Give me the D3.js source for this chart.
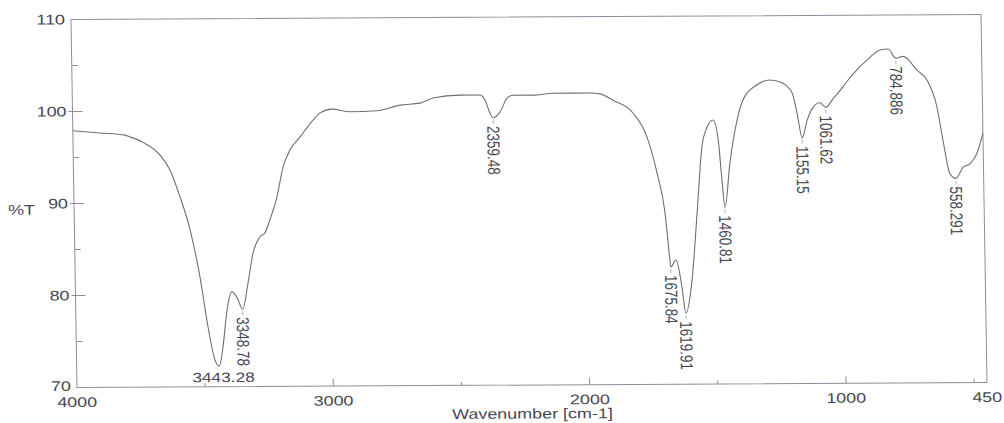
<!DOCTYPE html>
<html>
<head>
<meta charset="utf-8">
<script src="https://cdn.jsdelivr.net/npm/d3@7"></script>
<style>
  body { margin: 0; background: #fff; }
  svg text { font-family: "Liberation Sans", Arial, sans-serif; font-size: 14px; fill: #474753; }
  svg text.peak { font-size: 13.5px; }
</style>
</head>
<body>
<div id="chart"></div>
<script>
// spectrum (wavenumber cm-1, %T)
const wavenumbers = [4000, 3894, 3797, 3777, 3727, 3661, 3624, 3586, 3549, 3513, 3485, 3460, 3443.28, 3428, 3410, 3390, 3370, 3348.78, 3326, 3305, 3277, 3257, 3237, 3208, 3182, 3154, 3114, 3063, 3034, 2988, 2917, 2812, 2722, 2644, 2593, 2488, 2410, 2390, 2372, 2359.48, 2332, 2304, 2281, 2203, 2124, 1980, 1941, 1891, 1814, 1761, 1724, 1695, 1679, 1675.84, 1655, 1634, 1619.91, 1594, 1570, 1547, 1526, 1502, 1484, 1471, 1460.81, 1439, 1408, 1384, 1328, 1277, 1231, 1192, 1174, 1155.15, 1135, 1111, 1084, 1061.62, 1033, 1005, 977, 953, 898, 846, 815, 784.886, 757, 703, 665, 628, 606, 581, 558.291, 530, 502, 475, 450];
const transmittance = [97.9, 97.65, 97.4, 97.2, 96.6, 95.2, 93.6, 90.65, 87.1, 81.9, 76.5, 72.9, 72.25, 74.3, 78.3, 80.3, 79.7, 78.4, 81.3, 84.5, 86.25, 86.7, 88.1, 90.6, 93.85, 95.7, 97.1, 98.9, 99.7, 100.1, 99.8, 99.9, 100.5, 100.7, 101.25, 101.55, 101.55, 101.0, 99.6, 99.05, 99.7, 101.2, 101.5, 101.5, 101.7, 101.7, 101.6, 100.9, 99.5, 96.9, 93.0, 88.6, 83.5, 82.75, 83.5, 80.6, 77.7, 81.3, 88.6, 95.8, 97.9, 98.7, 96.8, 92.2, 89.2, 94.0, 98.7, 100.85, 102.5, 103.0, 102.7, 101.6, 99.4, 96.7, 98.6, 100.0, 100.5, 100.0, 100.9, 101.8, 102.8, 103.6, 105.1, 106.2, 106.3, 105.3, 105.5, 104.0, 102.9, 100.0, 96.3, 92.7, 92.2, 93.4, 93.8, 94.9, 97.1];

const peakWavenumbers = [3443.28, 3348.78, 2359.48, 1675.84, 1619.91, 1460.81, 1155.15, 1061.62, 784.886, 558.291];
const peakLabels = ["3443.28", "3348.78", "2359.48", "1675.84", "1619.91", "1460.81", "1155.15", "1061.62", "784.886", "558.291"];

const xTicks = [3000, 2000, 1000];
const xMinorTicks = [3500, 2500, 1500, 500];
const xTickLabels = [4000, 3000, 2000, 1000, 450];
const yTicks = [80, 90, 100];
const yMinorTicks = [75, 85, 95, 105];
const yTickLabels = [70, 80, 90, 100, 110];

const width = 1004, height = 423;
const pw = 910, ph = 368;
const ink = "#8e8e99";
const stretch = "scale(1.28,1)"; // the scan is a bit wider than tall

const svg = d3.select("#chart").append("svg")
  .attr("width", width)
  .attr("height", height);

// scanned page is slightly skewed, so the whole plot goes in a sheared group
const g = svg.append("g")
  .attr("transform", "matrix(1,-0.0055,0.0163,1,71,19.5)");

const x = d3.scaleLinear().domain([4000, 450]).range([0, pw]);
const y = d3.scaleLinear().domain([70, 110]).range([ph, 0]);

g.append("rect")
  .attr("width", pw).attr("height", ph)
  .attr("fill", "none").attr("stroke", ink).attr("stroke-width", 1);

// ticks
g.selectAll(".xt").data(xTicks).enter().append("line")
  .attr("x1", d => x(d)).attr("x2", d => x(d))
  .attr("y1", ph).attr("y2", ph - 7)
  .attr("stroke", ink);
g.selectAll(".xm").data(xMinorTicks).enter().append("line")
  .attr("x1", d => x(d)).attr("x2", d => x(d))
  .attr("y1", ph).attr("y2", ph - 3.5)
  .attr("stroke", ink);
g.selectAll(".yt").data(yTicks).enter().append("line")
  .attr("x1", -4).attr("x2", 10)
  .attr("y1", d => y(d)).attr("y2", d => y(d))
  .attr("stroke", ink);
g.selectAll(".ym").data(yMinorTicks).enter().append("line")
  .attr("x1", 0).attr("x2", 6)
  .attr("y1", d => y(d)).attr("y2", d => y(d))
  .attr("stroke", ink);

// tick labels
g.selectAll(".xl").data(xTickLabels).enter().append("text")
  .attr("transform", d => "translate(" + x(d) + "," + (ph + 19.5) + ") " + stretch)
  .attr("text-anchor", "middle")
  .text(d => d);
g.selectAll(".yl").data(yTickLabels).enter().append("text")
  .attr("transform", d => "translate(-6," + (y(d) - (d === 70 ? 1.5 : 0)) + ") " + stretch)
  .attr("text-anchor", "end")
  .attr("dy", "0.35em")
  .text(d => d);

g.append("text")
  .attr("transform", "translate(-66,195) " + stretch)
  .text("%T");
g.append("text")
  .attr("transform", "translate(455,401.5) " + stretch)
  .attr("text-anchor", "middle")
  .text("Wavenumber [cm-1]");

// spectrum
const pts = wavenumbers.map((w, i) => [w, transmittance[i]]);
const line = d3.line()
  .x(d => x(d[0]))
  .y(d => y(d[1]))
  .curve(d3.curveMonotoneX);

g.append("path")
  .datum(pts)
  .attr("d", line)
  .attr("fill", "none")
  .attr("stroke", "#6f6f72")
  .attr("stroke-width", 1.1);

// peak labels
peakWavenumbers.forEach((w, i) => {
  const t = transmittance[wavenumbers.indexOf(w)];
  const px = x(w), py = y(t);
  if (t < 75) {
    // too close to the bottom, printed flat
    g.append("text")
      .attr("class", "peak")
      .attr("transform", "translate(" + (px + 4) + "," + (py + 16) + ") " + stretch)
      .attr("text-anchor", "middle")
      .text(peakLabels[i]);
  } else {
    g.append("line")
      .attr("x1", px).attr("x2", px)
      .attr("y1", py + 2).attr("y2", py + 6)
      .attr("stroke", "#b4b4ba");
    g.append("text")
      .attr("class", "peak")
      .attr("transform", "translate(" + px + "," + (py + 8) + ") " + stretch + " rotate(90)")
      .attr("dy", "0.35em")
      .text(peakLabels[i]);
  }
});
</script>
</body>
</html>
